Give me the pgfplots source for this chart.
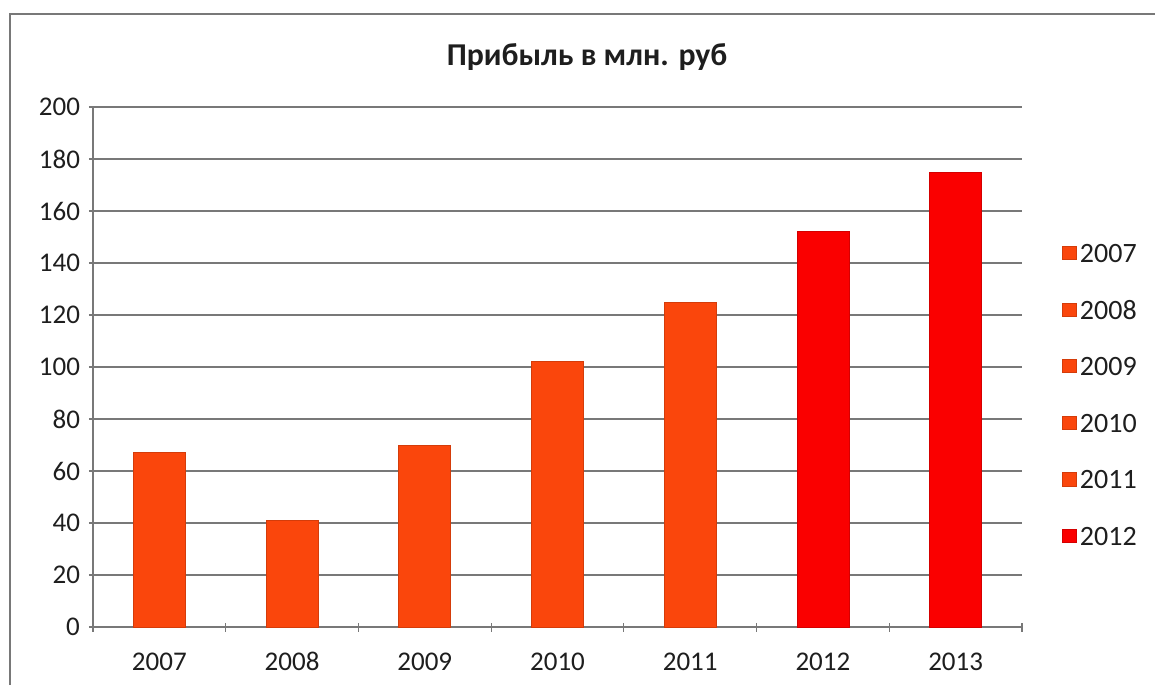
\documentclass[border=0pt]{standalone}
\usepackage{fontspec}
\setmainfont{Carlito}
\usepackage{pgfplots}
\pgfplotsset{compat=1.18}
\definecolor{orng}{RGB}{250,70,12}
\definecolor{rd}{RGB}{250,0,0}
\definecolor{gridc}{RGB}{120,120,120}
\definecolor{txt}{RGB}{30,30,30}
\begin{document}
\begin{tikzpicture}
\useasboundingbox (0,0) rectangle (577.5pt,-342.5pt);
\draw[gridc, line width=0.6pt] (5pt,-342.5pt) -- (5pt,-7pt) -- (577.5pt,-7pt);
\node[font=\fontsize{15.9}{18}\selectfont\bfseries, text=txt] at (293.5pt,-28.5pt) {Прибыль в млн. руб};
\begin{axis}[
  at={(46.5pt,-313.5pt)}, anchor=south west,
  scale only axis, width=464.5pt, height=260pt,
  xmin=-0.5, xmax=6.5, ymin=0, ymax=200,
  ytick={0,20,...,200},
  xtick={0,1,2,3,4,5,6},
  xticklabels={2007,2008,2009,2010,2011,2012,2013},
  minor xtick={-0.5,0.5,1.5,2.5,3.5,4.5,5.5,6.5},
  major x tick style={draw=none},
  minor x tick style={draw=gridc, line width=0.6pt},
  major y tick style={draw=gridc, line width=0.6pt},
  tick align=outside,
  major tick length=4pt, minor tick length=4.5pt,
  axis x line=bottom, axis y line=left,
  axis line style={-, draw=gridc, line width=0.6pt},
  ymajorgrids, grid style={draw=gridc, line width=0.6pt},
  /pgf/number format/assume math mode=true,
  tick label style={font=\fontsize{13.5}{15}\selectfont, text=txt},
  yticklabel style={xshift=-1pt},
  xticklabel style={text height=9.2pt, text depth=0pt, yshift=-7pt},
  legend style={draw=none, fill=none, at={(1.043,0.447)}, anchor=west,
    font=\fontsize{14}{16}\selectfont, text=txt, row sep=15.3pt, inner sep=0pt,
    nodes={inner sep=1.8pt, text height=9.4pt, text depth=0pt}},
  legend cell align=left,
  legend image code/.code={\filldraw[#1] (0pt,-3.3pt) rectangle (6.6pt,3.3pt);},
]
\addplot[ybar, bar width=26pt, bar shift=0pt, fill=orng, draw=orng!85!black, line width=0.4pt] coordinates {(0,67)};
\addplot[ybar, bar width=26pt, bar shift=0pt, fill=orng, draw=orng!85!black, line width=0.4pt] coordinates {(1,41)};
\addplot[ybar, bar width=26pt, bar shift=0pt, fill=orng, draw=orng!85!black, line width=0.4pt] coordinates {(2,70)};
\addplot[ybar, bar width=26pt, bar shift=0pt, fill=orng, draw=orng!85!black, line width=0.4pt] coordinates {(3,102)};
\addplot[ybar, bar width=26pt, bar shift=0pt, fill=orng, draw=orng!85!black, line width=0.4pt] coordinates {(4,125)};
\addplot[ybar, bar width=26pt, bar shift=0pt, fill=rd, draw=rd!85!black, line width=0.4pt] coordinates {(5,152)};
\addplot[ybar, bar width=26pt, bar shift=0pt, fill=rd, draw=rd!85!black, line width=0.4pt, forget plot] coordinates {(6,175)};
\legend{2007,2008,2009,2010,2011,2012}
\end{axis}
\end{tikzpicture}
\end{document}
